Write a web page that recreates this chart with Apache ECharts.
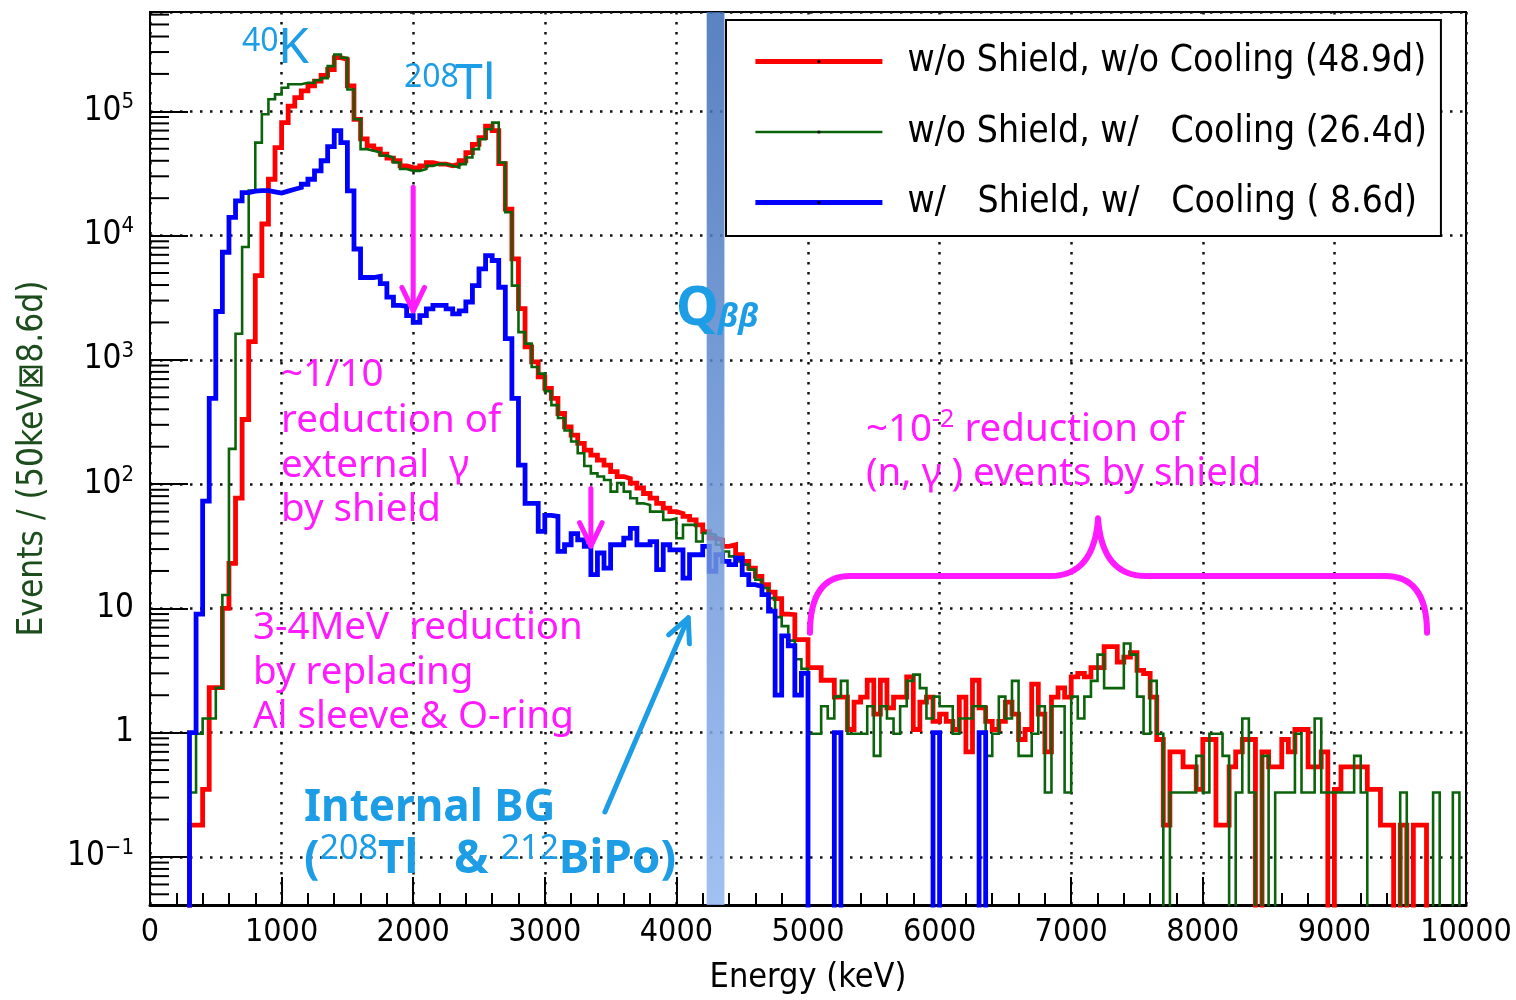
<!DOCTYPE html>
<html>
<head>
<meta charset="utf-8">
<script src="https://cdn.jsdelivr.net/npm/echarts@6/dist/echarts.min.js"></script>
<style>
  html, body { margin: 0; padding: 0; background: #fff; }
  #chart { width: 1516px; height: 1000px; }
</style>
</head>
<body>
<div id="chart"></div>
<script>
// Energy spectra, 50 keV bins from 0 to 10000 keV, normalised to 8.6 days.
const BIN_WIDTH = 50;
const ENERGY_MIN = 0;
const ENERGY_MAX = 10000;
const ENERGY_STEP = 1000;
const EVENTS_MIN = 0.041;
const EVENTS_MAX = 630000;
const EMPTY_BIN_LEVEL = 1e-3; // empty bins are drawn down to the axis floor

const seriesNames = [
  'w/o Shield, w/o Cooling (48.9d)',
  'w/o Shield, w/   Cooling (26.4d)',
  'w/   Shield, w/   Cooling ( 8.6d)'
];

const noShieldNoCooling = [
  0,0,0,0,0,0,0.18,0.18,0.35,2.3,
  2.3,10,23,77,331,1400,4770,12400,28400,51100,
  81100,110000,129000,146000,160000,175000,195000,217000,270000,262000,
  160000,86000,60000,52700,49600,45200,42000,40000,36400,35300,
  35000,36400,38700,37600,37600,36400,37600,40000,46600,54300,
  61500,76000,70000,38000,16300,6500,2580,1270,962,729,
  589,489,370,289,248,213,188,171,156,142,
  126,115,111,102,93,84,77,70,64,60,
  58,55,51.5,47,41.5,36.7,35.6,31.5,32.5,27,
  23.9,21.1,18.1,15.5,13.5,12,9,8.9,5.6,5.6,
  3.34,3.34,2.64,2.64,1.93,1.93,1.06,1.76,1.93,2.64,
  1.41,2.64,1.58,1.93,1.93,2.81,1.06,1.76,1.93,1.23,
  1.41,1.23,1.06,1.93,0.70,2.64,1.58,1.23,1.06,1.23,
  1.76,1.41,0.88,1.06,2.46,1.41,0.70,1.93,2.29,1.93,
  2.81,2.99,2.81,3.34,3.34,4.92,4.92,3.69,4.05,4.40,
  3.17,2.99,1.93,0.88,0.18,0.70,0.70,0.53,0.53,0.35,
  0.88,0.88,0.18,0.18,0.53,0.70,0.88,0.88,0,0.70,
  0.53,0.53,0.88,0.70,1.06,1.06,0.53,0.53,0.70,0,
  0.35,0.53,0.53,0.53,0.53,0.35,0.35,0.18,0.18,0,
  0.18,0,0.18,0.18,0,0,0,0,0,0
];

const noShieldCooling = [
  0,0,0,0,0,0,0.33,0.98,1.3,1.3,
  2.3,12.8,192,1620,8100,23000,56000,94600,125000,137000,
  155000,165000,165000,170000,170000,178000,185000,231000,287000,270000,
  150000,86300,49600,48100,46600,44000,42500,38700,34300,33200,
  33200,34300,36400,37600,37600,36400,35300,37600,42500,49600,
  59600,71700,81100,38700,15400,3960,1670,1350,877,775,
  560,432,340,270,220,177,140,122,115,108,
  87,102,87,77,70,68,60,60,51.5,53,
  36.7,47,47,34.5,40.3,39,32.5,28.7,26.2,23.9,
  22.5,20.5,17,14.6,12.1,8.5,7.2,5.5,3.9,3.26,
  0.98,0.98,1.63,1.30,1.95,2.61,0.98,0.98,0.98,1.63,
  0.65,1.63,1.30,0.98,1.63,2.61,2.93,2.28,1.30,1.95,
  1.63,1.63,0.98,1.30,1.30,1.63,1.63,0.65,0.98,1.95,
  1.30,2.61,0.65,0.65,0.98,1.63,0.33,1.63,1.63,0.33,
  1.95,1.30,1.95,2.61,4.24,2.28,2.28,2.28,5.22,4.24,
  1.95,0.98,2.61,0.98,0,0.33,0.33,0.33,0.33,0.65,
  0.33,0.98,0.98,0.65,0,0.33,1.30,0.33,0,0.65,
  0,0.33,0.33,0.33,0.98,0.33,0.33,1.30,0.33,0.33,
  0.33,0.33,0.33,0.65,0.33,0,0,0,0,0,
  0.33,0,0,0,0,0.33,0,0,0.33,0
];

const shieldCooling = [
  0,0,0,0,0,0,1,9,73,490,
  2450,7340,14000,19000,22200,22800,23000,23000,22500,22000,
  22800,23600,24400,25900,28400,33200,40000,52000,70000,56000,
  22900,7800,4600,4600,4700,4100,3200,2740,2700,2270,
  2000,2270,2570,2740,2740,2570,2340,2480,2920,3960,
  5400,6900,6300,3840,1480,489,142,70,70,41.6,
  56,55,28.7,32.5,40,35.6,31.5,18.7,27.9,21.1,
  32.5,32.5,36.7,44,32.5,32.5,34.5,20.5,32.5,29.6,
  29.6,17.5,27,27,31.5,19.9,27,23.9,22.5,25.4,
  18.7,15.5,15,12.9,9.5,2,6,5,2,3,
  0,0,0,0,1,0,0,0,0,0,
  0,0,0,0,0,0,0,0,0,1,
  0,0,0,0,0,0,1,0,0,0,
  0,0,0,0,0,0,0,0,0,0,
  0,0,0,0,0,0,0,0,0,0,
  0,0,0,0,0,0,0,0,0,0,
  0,0,0,0,0,0,0,0,0,0,
  0,0,0,0,0,0,0,0,0,0,
  0,0,0,0,0,0,0,0,0,0,
  0,0,0,0,0,0,0,0,0,0
];

// Q-value window (keV) and annotation anchors in data coordinates.
const qWindow = [4230, 4365];
const shieldArrow = [[2000, 24500], [2000, 2480]];
const midArrow = [[3350, 92], [3350, 31.7]];
const internalArrow = [[3457, 0.23], [4090, 8.4]];
const braceEnergies = [5015, 5319, 6839, 7204, 7568, 9384, 9704];
const braceLevels = { end: 6.35, arm: 18.2, tip: 53 };

const COND = '"DejaVu Sans Condensed", "Liberation Sans Narrow", "DejaVu Sans", sans-serif';
const ROUND = '"Noto Sans", "Open Sans", sans-serif';
const MAGENTA = '#ff1aff';
const SKY = '#1d9de6';

function histogramSteps(values) {
  const pts = values.map((v, i) => [ENERGY_MIN + i * BIN_WIDTH, v > 0 ? v : EMPTY_BIN_LEVEL]);
  const last = values[values.length - 1];
  pts.push([ENERGY_MIN + values.length * BIN_WIDTH, last > 0 ? last : EMPTY_BIN_LEVEL]);
  return pts;
}

// log-axis minor tick positions (2..9 x 10^n)
const minorLogTicks = [];
for (let e = -2; e <= 5; e++) {
  for (let k = 2; k <= 9; k++) {
    const v = k * Math.pow(10, e);
    if (v > EVENTS_MIN && v < EVENTS_MAX) minorLogTicks.push([ENERGY_MIN, v]);
  }
}

function decadeLabel(v) {
  const e = Math.round(Math.log10(v));
  if (Math.abs(Math.log10(v) - e) > 1e-6) return '';
  if (e === 0) return '{base|1}';
  if (e === 1) return '{base|10}';
  return '{base|10}{sup|' + (e < 0 ? '\u2212' + (-e) : e) + '}';
}

function histSeries(name, values, color, width, z) {
  return {
    name: name,
    type: 'line',
    step: 'end',
    data: histogramSteps(values),
    showSymbol: false,
    symbol: 'circle',
    symbolSize: 3,
    itemStyle: { color: '#000' },
    lineStyle: { color: color, width: width, join: 'miter' },
    clip: true,
    silent: true,
    z: z,
    animation: false
  };
}

function chevron(p0, p1, head, spread) {
  const dx = p1[0] - p0[0], dy = p1[1] - p0[1];
  const len = Math.hypot(dx, dy);
  const bx = -dx / len, by = -dy / len;
  const arm = (a) => [p1[0] + head * (bx * Math.cos(a) - by * Math.sin(a)),
                      p1[1] + head * (bx * Math.sin(a) + by * Math.cos(a))];
  return [arm(spread), p1, arm(-spread)];
}

function arrowGroup(api, pair, color, width) {
  const p0 = api.coord(pair[0]);
  const p1 = api.coord(pair[1]);
  return [
    { type: 'line', shape: { x1: p0[0], y1: p0[1], x2: p1[0], y2: p1[1] },
      style: { stroke: color, lineWidth: width, lineCap: 'round' } },
    { type: 'polyline', shape: { points: chevron(p0, p1, 26, 0.45) },
      style: { stroke: color, lineWidth: width, fill: null, lineCap: 'round', lineJoin: 'round' } }
  ];
}

function bracePath(api) {
  const x = braceEnergies.map(e => api.coord([e, 1])[0]);
  const yEnd = api.coord([ENERGY_MIN, braceLevels.end])[1];
  const yArm = api.coord([ENERGY_MIN, braceLevels.arm])[1];
  const yTip = api.coord([ENERGY_MIN, braceLevels.tip])[1];
  return 'M' + x[0] + ',' + yEnd +
    ' Q' + x[0] + ',' + yArm + ' ' + x[1] + ',' + yArm +
    ' L' + x[2] + ',' + yArm +
    ' Q' + (x[3] - 4) + ',' + yArm + ' ' + x[3] + ',' + yTip +
    ' Q' + (x[3] + 4) + ',' + yArm + ' ' + x[4] + ',' + yArm +
    ' L' + x[5] + ',' + yArm +
    ' Q' + x[6] + ',' + yArm + ' ' + x[6] + ',' + yEnd;
}

const dotted = { color: '#111', width: 2.5, type: [2.5, 7.5] };

const option = {
  animation: false,
  backgroundColor: '#fff',
  grid: {
    left: 150, right: 50, top: 12, bottom: 91,
    show: true, borderColor: '#000', borderWidth: 2, backgroundColor: 'transparent'
  },
  legend: {
    orient: 'vertical',
    left: 726, top: 20,
    padding: [23, 14, 15, 27],
    backgroundColor: '#fff',
    borderColor: '#000', borderWidth: 2,
    itemWidth: 127, itemHeight: 4, itemGap: 33.5,
    selectedMode: false,
    lineStyle: { width: 'inherit' },
    textStyle: { fontFamily: COND, fontSize: 37, color: '#000', padding: [0, 0, 0, 20] },
    data: seriesNames
  },
  xAxis: {
    type: 'value', min: ENERGY_MIN, max: ENERGY_MAX, interval: ENERGY_STEP,
    axisLine: { onZero: false, lineStyle: { color: '#000', width: 3 } },
    axisTick: { inside: true, length: 28, lineStyle: { color: '#000', width: 2 } },
    minorTick: { show: true, splitNumber: 5, length: 12, lineStyle: { color: '#000', width: 2 } },
    splitLine: { show: true, lineStyle: dotted },
    axisLabel: { fontFamily: COND, fontSize: 32, color: '#000', margin: 12,
                 formatter: (v) => String(v) },
    name: 'Energy (keV)', nameLocation: 'middle', nameGap: 56,
    nameTextStyle: { fontFamily: COND, fontSize: 34, color: '#000' }
  },
  yAxis: {
    type: 'log', logBase: 10, min: EVENTS_MIN, max: EVENTS_MAX,
    axisLine: { show: true, lineStyle: { color: '#000', width: 2 } },
    axisTick: { show: true, inside: true, length: 38, lineStyle: { color: '#000', width: 2 } },
    splitLine: { show: true, lineStyle: dotted },
    axisLabel: {
      margin: 16,
      formatter: decadeLabel,
      rich: {
        base: { fontFamily: COND, fontSize: 33, color: '#000' },
        sup: { fontFamily: COND, fontSize: 22, color: '#000', padding: [0, 0, 18, 0] }
      }
    },
    name: 'Events / (50keV\u22A08.6d)', nameLocation: 'middle', nameGap: 100,
    nameTextStyle: { fontFamily: COND, fontSize: 35, color: '#1d4d1d' }
  },
  series: [
    histSeries(seriesNames[0], noShieldNoCooling, '#ff0000', 4.8, 2),
    histSeries(seriesNames[1], noShieldCooling, '#0b640b', 2.6, 3),
    histSeries(seriesNames[2], shieldCooling, '#0000ff', 4.8, 4),
    {
      type: 'custom', silent: true, z: 5,
      data: [qWindow],
      renderItem: function (params, api) {
        const x0 = api.coord([api.value(0), 1])[0];
        const x1 = api.coord([api.value(1), 1])[0];
        const cs = params.coordSys;
        return {
          type: 'rect',
          shape: { x: x0, y: cs.y, width: x1 - x0, height: cs.height },
          style: {
            fill: new echarts.graphic.LinearGradient(0, 0, 0, 1, [
              { offset: 0, color: 'rgba(62,108,182,0.85)' },
              { offset: 1, color: 'rgba(145,182,240,0.85)' }
            ])
          }
        };
      }
    },
    {
      type: 'custom', silent: true, z: 6,
      data: minorLogTicks,
      renderItem: function (params, api) {
        const p = api.coord([api.value(0), api.value(1)]);
        return { type: 'line', shape: { x1: p[0], y1: p[1], x2: p[0] + 19, y2: p[1] },
                 style: { stroke: '#000', lineWidth: 2 } };
      }
    },
    {
      type: 'custom', silent: true, z: 7,
      data: [[ENERGY_MIN, 1]],
      renderItem: function (params, api) {
        const children = []
          .concat(arrowGroup(api, shieldArrow, MAGENTA, 5))
          .concat(arrowGroup(api, midArrow, MAGENTA, 5))
          .concat(arrowGroup(api, internalArrow, SKY, 5));
        children.push({
          type: 'path', shape: { pathData: bracePath(api) },
          style: { stroke: MAGENTA, lineWidth: 6, fill: null, lineCap: 'round', lineJoin: 'round' }
        });
        return { type: 'group', children: children };
      }
    }
  ],
  graphic: {
    elements: [
      { type: 'text', x: 242, y: 42, z: 10, style: { text: '40', fontFamily: ROUND, fontSize: 32, fill: SKY, align: 'left', verticalAlign: 'middle' } },
      { type: 'text', x: 278, y: 49, z: 10, style: { text: 'K', fontFamily: ROUND, fontSize: 50, fill: SKY, align: 'left', verticalAlign: 'middle' } },
      { type: 'text', x: 404, y: 78, z: 10, style: { text: '208', fontFamily: ROUND, fontSize: 32, fill: SKY, align: 'left', verticalAlign: 'middle' } },
      { type: 'text', x: 455, y: 85, z: 10, style: { text: 'Tl', fontFamily: ROUND, fontSize: 50, fill: SKY, align: 'left', verticalAlign: 'middle' } },
      { type: 'text', x: 676, y: 310, z: 10, style: { text: 'Q', fontFamily: ROUND, fontWeight: 'bold', fontSize: 54, fill: SKY, align: 'left', verticalAlign: 'middle' } },
      { type: 'text', x: 718, y: 318, z: 10, style: { text: '\u03B2\u03B2', fontFamily: ROUND, fontStyle: 'italic', fontWeight: 'bold', fontSize: 33, fill: SKY, align: 'left', verticalAlign: 'middle' } },

      { type: 'text', x: 281, y: 375, z: 10, style: { text: '~1/10', fontFamily: ROUND, fontSize: 38.5, fill: MAGENTA, align: 'left', verticalAlign: 'middle' } },
      { type: 'text', x: 281, y: 421, z: 10, style: { text: 'reduction of', fontFamily: ROUND, fontSize: 38.5, fill: MAGENTA, align: 'left', verticalAlign: 'middle' } },
      { type: 'text', x: 281, y: 466, z: 10, style: { text: 'external  \u03B3', fontFamily: ROUND, fontSize: 38.5, fill: MAGENTA, align: 'left', verticalAlign: 'middle' } },
      { type: 'text', x: 281, y: 510, z: 10, style: { text: 'by shield', fontFamily: ROUND, fontSize: 38.5, fill: MAGENTA, align: 'left', verticalAlign: 'middle' } },

      { type: 'text', x: 253, y: 628, z: 10, style: { text: '3-4MeV  reduction', fontFamily: ROUND, fontSize: 38.5, fill: MAGENTA, align: 'left', verticalAlign: 'middle' } },
      { type: 'text', x: 253, y: 673, z: 10, style: { text: 'by replacing', fontFamily: ROUND, fontSize: 38.5, fill: MAGENTA, align: 'left', verticalAlign: 'middle' } },
      { type: 'text', x: 253, y: 717, z: 10, style: { text: 'Al sleeve & O-ring', fontFamily: ROUND, fontSize: 38.5, fill: MAGENTA, align: 'left', verticalAlign: 'middle' } },

      { type: 'text', x: 866, y: 430, z: 10, style: {
          text: '{n|~10}{s|-2}{n| reduction of}', align: 'left', verticalAlign: 'middle',
          rich: { n: { fontFamily: ROUND, fontSize: 38.5, fill: MAGENTA, color: MAGENTA },
                  s: { fontFamily: ROUND, fontSize: 25, fill: MAGENTA, color: MAGENTA, padding: [0, 0, 20, 0] } } } },
      { type: 'text', x: 866, y: 474, z: 10, style: { text: '(n, \u03B3 ) events by shield', fontFamily: ROUND, fontSize: 38.5, fill: MAGENTA, align: 'left', verticalAlign: 'middle' } },

      { type: 'text', x: 304, y: 808, z: 10, style: { text: 'Internal BG', fontFamily: ROUND, fontWeight: 'bold', fontSize: 44, fill: SKY, align: 'left', verticalAlign: 'middle' } },
      { type: 'text', x: 304, y: 860, z: 10, style: {
          text: '{b|(}{s|208}{b|Tl   & }{s|212}{b|BiPo)}', align: 'left', verticalAlign: 'middle',
          rich: { b: { fontFamily: ROUND, fontWeight: 'bold', fontSize: 46, fill: SKY, color: SKY },
                  s: { fontFamily: ROUND, fontSize: 34, fill: SKY, color: SKY, padding: [0, 0, 22, 0] } } } }
    ]
  }
};

const chart = echarts.init(document.getElementById('chart'), null, { renderer: 'canvas' });
chart.setOption(option);
</script>
</body>
</html>
